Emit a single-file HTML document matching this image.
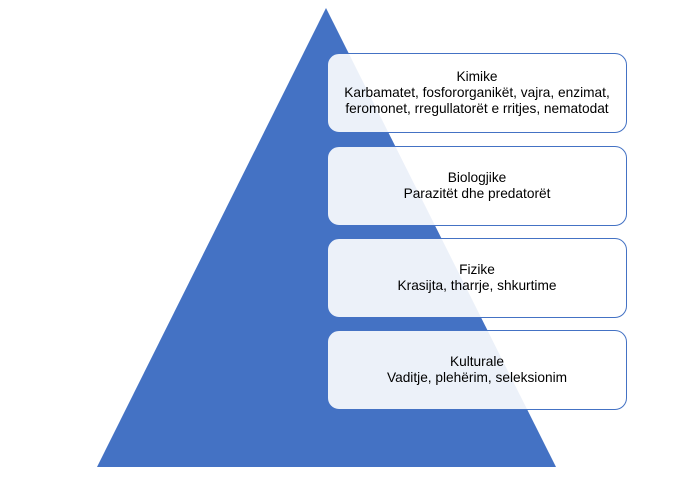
<!DOCTYPE html>
<html><head><meta charset="utf-8"><style>
body{margin:0;width:679px;height:481px;background:#fff;position:relative;overflow:hidden;font-family:"Liberation Sans",sans-serif;}
svg{position:absolute;left:0;top:0}
.b{position:absolute;left:327px;width:300px;height:80px;border:1px solid #4472c4;border-radius:12px;background:rgba(255,255,255,0.9);display:flex;flex-direction:column;justify-content:center;align-items:center;text-align:center;font-size:13.7px;line-height:16px;color:#000;box-sizing:border-box;}
</style></head><body>
<svg width="679" height="481"><polygon points="326,8 97,467 556,467" fill="#4472c4"/></svg>
<div class="b" style="top:53px">Kimike<br>Karbamatet, fosfororganikët, vajra, enzimat,<br>feromonet, rregullatorët e rritjes, nematodat</div>
<div class="b" style="top:146px">Biologjike<br>Parazitët dhe predatorët</div>
<div class="b" style="top:238px">Fizike<br>Krasijta, tharrje, shkurtime</div>
<div class="b" style="top:330px">Kulturale<br>Vaditje, plehërim, seleksionim</div>
</body></html>
